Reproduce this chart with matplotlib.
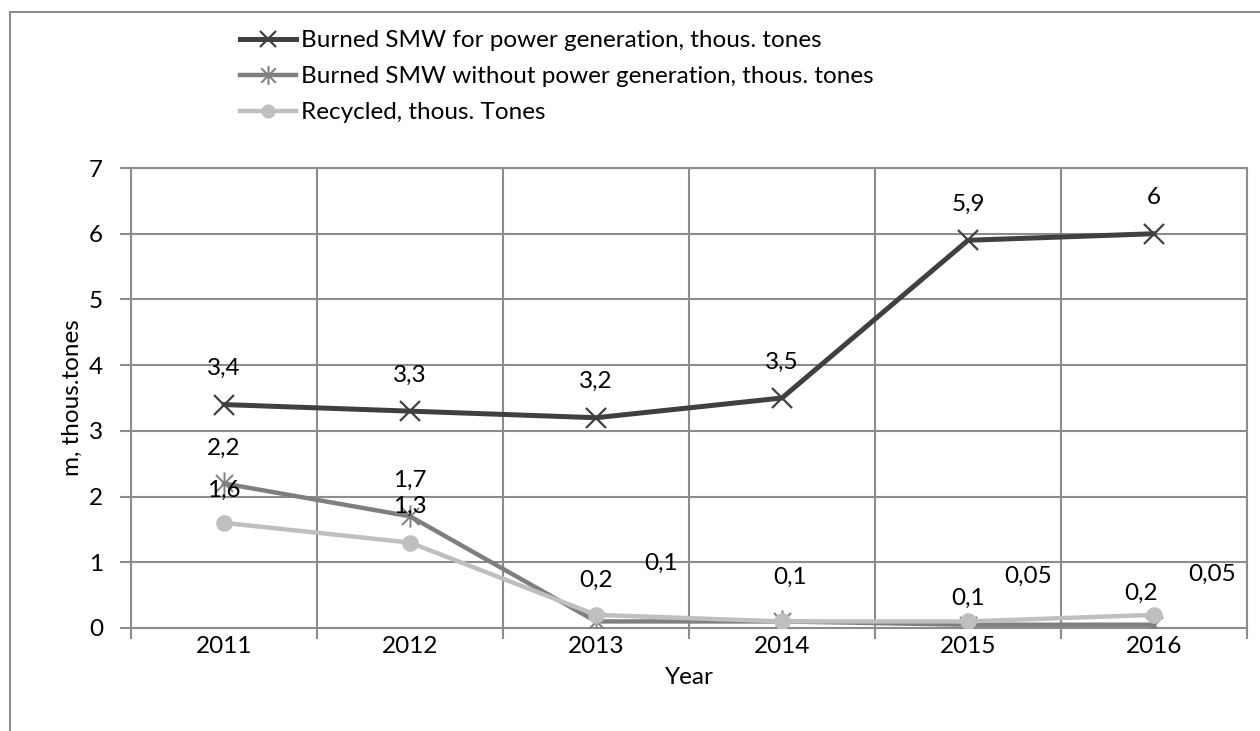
import matplotlib
matplotlib.use('Agg')
import matplotlib.pyplot as plt
from matplotlib.path import Path
from matplotlib.lines import Line2D
import numpy as np

plt.rcParams['font.family'] = ['Lato', 'DejaVu Sans']

# data
years = ['2011', '2012', '2013', '2014', '2015', '2016']
burned_power = [3.4, 3.3, 3.2, 3.5, 5.9, 6.0]
burned_no_power = [2.2, 1.7, 0.1, 0.1, 0.05, 0.05]
recycled = [1.6, 1.3, 0.2, 0.1, 0.1, 0.2]

names = [
    'Burned SMW for power generation, thous. tones',
    'Burned SMW without power generation, thous. tones',
    'Recycled, thous. Tones',
]

# data label offsets in pixels (None = label hidden)
off_power = [(0, 36)] * 6
off_no_power = [(0, 35), (0, 36), (65, 58), None, (60, 48), (58, 50)]
off_recycled = [(0, 33), (0, 36), (0, 35), (8, 44), (0, 23), (-13, 22)]

FS = 17.5

# excel-like asterisk marker: x plus vertical bar
ast = Path([(-1, -1), (1, 1), (-1, 1), (1, -1), (0, -1.3), (0, 1.3)],
           [Path.MOVETO, Path.LINETO, Path.MOVETO, Path.LINETO, Path.MOVETO, Path.LINETO])

W, H = 1260, 731
fig = plt.figure(figsize=(W / 100, H / 100), dpi=100)
ax = fig.add_axes([131 / W, 1 - 628 / H, (1247 - 131) / W, (628 - 168) / H])

grid_c = '#8c8c8c'
x = np.arange(len(years))

styles = [
    dict(color='#404040', lw=3.6, marker='x', ms=14, mew=1.6),
    dict(color='#7f7f7f', lw=3.2, marker=ast, ms=16, mew=1.4, mfc='none'),
    dict(color='#bfbfbf', lw=3.2, marker='o', ms=12, mew=0),
]
series = [burned_power, burned_no_power, recycled]
offsets = [off_power, off_no_power, off_recycled]

for vals, st, name, offs in zip(series, styles, names, offsets):
    ax.plot(x, vals, label=name, solid_joinstyle='round', zorder=3, **st)
    for xi, v, o in zip(x, vals, offs):
        if o is None:
            continue
        ax.annotate(f'{v:g}'.replace('.', ','), (xi, v), xytext=o,
                    textcoords='offset pixels', ha='center', va='center',
                    fontsize=FS, color='black', zorder=4)

ax.set_xlim(-0.5, len(years) - 0.5)
ax.set_ylim(0, 7)
ax.set_yticks(range(0, 8))
ax.set_xticks(np.arange(-0.5, len(years)), labels=[])
ax.set_xticks(x, labels=years, minor=True)
ax.tick_params(axis='x', which='major', length=8, width=1.5, color=grid_c, direction='out')
ax.tick_params(axis='x', which='minor', length=0, pad=6, labelsize=FS)
ax.tick_params(axis='y', length=8, width=1.5, color=grid_c, direction='out', pad=12, labelsize=FS)
ax.grid(True, which='major', color=grid_c, lw=1.5, zorder=0)
for sp in ax.spines.values():
    sp.set_color(grid_c)
    sp.set_linewidth(1.5)

ax.set_xlabel('Year', fontsize=FS)
ax.xaxis.set_label_coords(0.5, -0.085)
ax.set_ylabel('m, thous.tones', fontsize=FS)
ax.yaxis.set_label_coords(-0.043, 0.5)

leg = fig.legend(loc='upper left', bbox_to_anchor=(240 / W, 1 - 30 / H), frameon=False,
                 fontsize=FS, handlelength=2.3, handletextpad=0.2, labelspacing=0.62,
                 markerscale=0.85, borderaxespad=0, borderpad=0)

# outer chart border (left and top edges visible)
fig.add_artist(Line2D([10 / W, 10 / W], [0, 1 - 12 / H], color=grid_c, lw=1.5))
fig.add_artist(Line2D([10 / W, 1], [1 - 12 / H, 1 - 12 / H], color=grid_c, lw=1.5))

fig.savefig('out.png', dpi=100)
